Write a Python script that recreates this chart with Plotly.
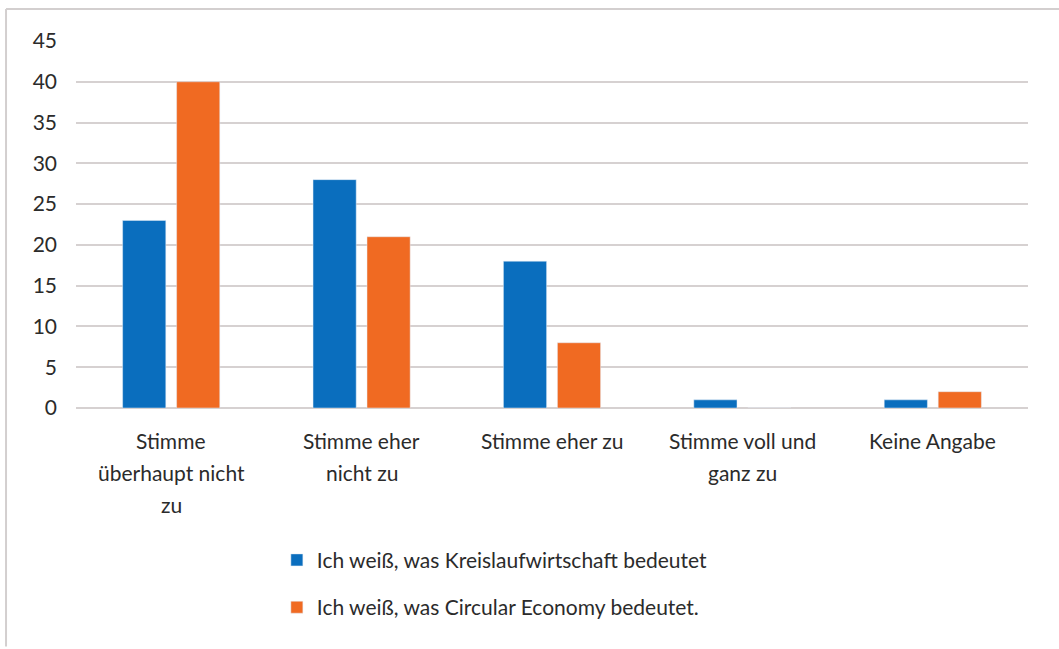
import plotly.graph_objects as go

categories = ["Stimme überhaupt nicht zu", "Stimme eher nicht zu", "Stimme eher zu",
              "Stimme voll und ganz zu", "Keine Angabe"]
label_lines = [["Stimme", "überhaupt nicht", "zu"], ["Stimme eher", "nicht zu"],
               ["Stimme eher zu"], ["Stimme voll und", "ganz zu"], ["Keine Angabe"]]
series1_name = "Ich weiß, was Kreislaufwirtschaft bedeutet"
series1 = [23, 28, 18, 1, 1]
series2_name = "Ich weiß, was Circular Economy bedeutet."
series2 = [40, 21, 8, 0, 2]
y_ticks = [0, 5, 10, 15, 20, 25, 30, 35, 40, 45]

FONT = "Lato"
FS = 21
TXT = "#2b2b2b"
BLUE = "#0A6EBE"
ORANGE = "#F06A22"
GRID = "#D6D1D1"

fig = go.Figure()
fig.add_trace(go.Bar(x=categories, y=series1, name=series1_name, marker_color=BLUE,
                     legendgroup="a"))
fig.add_trace(go.Bar(x=categories, y=series2, name=series2_name, marker_color=ORANGE,
                     legendgroup="b"))

annotations = []
for cat, lines in zip(categories, label_lines):
    for i, ln in enumerate(lines):
        annotations.append(dict(x=cat, y=0, xref="x", yref="y", text=ln, showarrow=False,
                                yanchor="middle", xanchor="center", yshift=-32 - 32 * i,
                                font=dict(family=FONT, size=FS, color=TXT)))

fig.update_layout(
    width=1059, height=649,
    margin=dict(l=76, r=31, t=41, b=241, autoexpand=False),
    paper_bgcolor="white", plot_bgcolor="white",
    barmode="group", bargap=0.433, bargroupgap=0.2,
    font=dict(family=FONT, size=FS, color=TXT),
    xaxis=dict(showticklabels=False, showgrid=False, showline=False, zeroline=False,
               fixedrange=True),
    yaxis=dict(range=[0, 45], tickvals=y_ticks, showgrid=True, gridcolor=GRID, gridwidth=2,
               zeroline=True, zerolinecolor=GRID, zerolinewidth=2, showline=False,
               ticklabelstandoff=18, tickfont=dict(family=FONT, size=FS, color=TXT)),
    legend=dict(x=0.211, y=-0.359, xanchor="left", yanchor="top", orientation="v",
                traceorder="grouped", tracegroupgap=17,
                font=dict(family=FONT, size=FS, color=TXT), itemwidth=30,
                bgcolor="rgba(0,0,0,0)"),
    annotations=annotations,
    shapes=[
        dict(type="line", xref="paper", yref="paper", x0=-0.0735, x1=1.033, y0=1.0872, y1=1.0872,
             line=dict(color="#D3CFCF", width=2)),
        dict(type="line", xref="paper", yref="paper", x0=-0.0735, x1=-0.0735, y0=1.0872, y1=-0.65,
             line=dict(color="#D3CFCF", width=2)),
    ],
    showlegend=True,
)

fig.write_html("out.html", config={"displayModeBar": False},
               post_script="document.body.style.margin='0px';document.body.style.overflow='hidden';")
